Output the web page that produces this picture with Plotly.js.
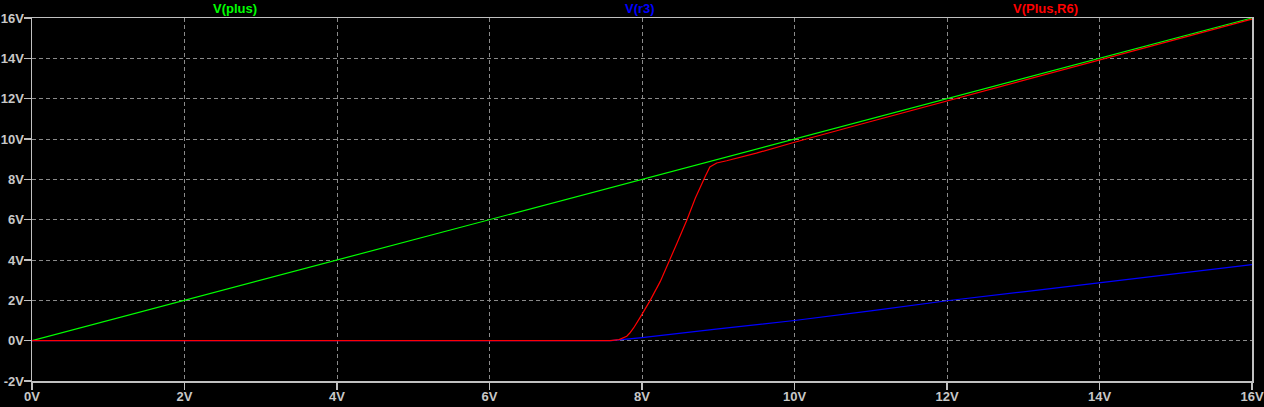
<!DOCTYPE html>
<html>
<head>
<meta charset="utf-8">
<script src="https://cdn.plot.ly/plotly-3.0.1.min.js"></script>
<style>
html,body{margin:0;padding:0;background:#000;}
#chart{width:1264px;height:407px;}
</style>
</head>
<body>
<div id="chart"></div>
<script>
// Sweep variable (V) and node voltages
const plusX = [0, 2, 4, 6, 8, 10, 12, 14, 16];
const plusY = [0, 2, 4, 6, 8, 10, 12, 14, 16];

const r3X = [0, 7.6, 7.8, 8, 9, 10, 11, 12, 13, 14, 15, 16];
const r3Y = [0, 0, 0.08, 0.15, 0.58, 1.0, 1.48, 1.98, 2.42, 2.87, 3.32, 3.77];

const r6X = [0, 7.58, 7.7, 7.8, 7.84, 7.89, 7.97, 8.10, 8.24, 8.35, 8.46, 8.59, 8.70, 8.83, 8.89, 8.98, 9.11, 9.5, 10, 11, 12, 13, 14, 15, 16];
const r6Y = [0, 0, 0.05, 0.22, 0.38, 0.63, 1.12, 1.95, 2.94, 3.85, 4.84, 6.0, 7.07, 8.15, 8.61, 8.81, 8.92, 9.3, 9.84, 10.87, 11.88, 12.9, 13.92, 14.93, 15.95];

const traceNames = ['V(plus)', 'V(r3)', 'V(Plus,R6)'];
const traceColors = ['#00ff00', '#0000ff', '#ff0000'];
const labelPos = [0.1664, 0.498, 0.831];

const xTickVals = [0, 2, 4, 6, 8, 10, 12, 14, 16];
const xTickText = ['0V', '2V', '4V', '6V', '8V', '10V', '12V', '14V', '16V'];
const yTickVals = [-2, 0, 2, 4, 6, 8, 10, 12, 14, 16];
const yTickText = ['-2V', '0V', '2V', '4V', '6V', '8V', '10V', '12V', '14V', '16V'];

const series = [[plusX, plusY], [r3X, r3Y], [r6X, r6Y]];
const data = series.map((s, i) => ({
  x: s[0], y: s[1], type: 'scatter', mode: 'lines', name: traceNames[i],
  line: {color: traceColors[i], width: 1.2}, hoverinfo: 'skip'
}));

const tickFont = {family: 'Liberation Sans', size: 13, color: '#c8c8c8', weight: 700};
const axisCommon = {
  showline: true, mirror: true, linecolor: '#c0c0c0', linewidth: 1.5,
  showgrid: true, gridcolor: '#8a8a8a', gridwidth: 1, griddash: '4px,3px',
  zeroline: false, ticks: 'outside', ticklen: 7, tickcolor: '#c0c0c0', tickwidth: 1.5,
  tickfont: tickFont, tickmode: 'array', fixedrange: true
};

const layout = {
  width: 1264, height: 407,
  paper_bgcolor: '#000000', plot_bgcolor: '#000000',
  margin: {l: 32, r: 12, t: 18, b: 26},
  showlegend: false,
  xaxis: Object.assign({}, axisCommon, {range: [0, 16], tickvals: xTickVals, ticktext: xTickText, ticklabelstandoff: -4}),
  yaxis: Object.assign({}, axisCommon, {range: [-2, 16], tickvals: yTickVals, ticktext: yTickText, ticklabelstandoff: -3}),
  annotations: traceNames.map((n, i) => ({
    text: n, xref: 'paper', yref: 'paper', x: labelPos[i], y: 1,
    xanchor: 'center', yanchor: 'bottom', showarrow: false,
    font: {family: 'Liberation Sans', size: 13, color: traceColors[i], weight: 700}
  }))
};

Plotly.newPlot('chart', data, layout, {staticPlot: true, displayModeBar: false});
</script>
</body>
</html>
